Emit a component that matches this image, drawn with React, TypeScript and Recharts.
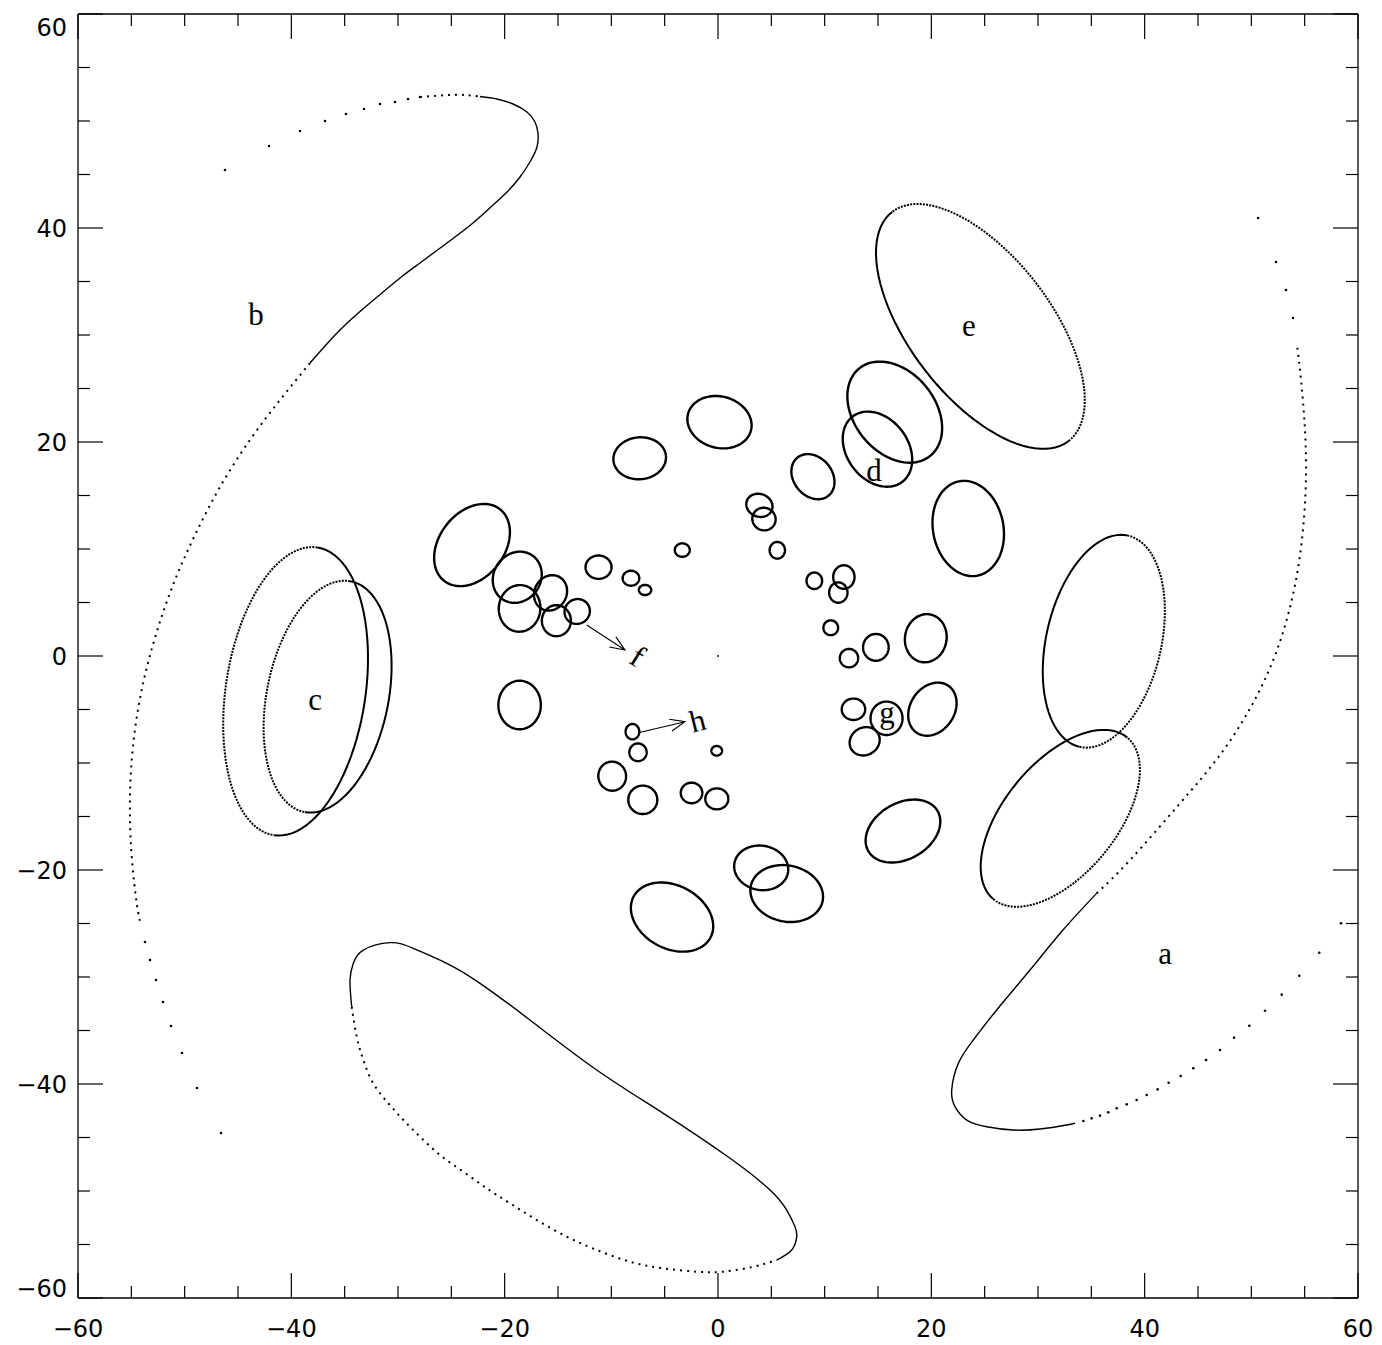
import React from "react";
import { ScatterChart, Scatter, XAxis, YAxis } from "recharts";

// ------------------------------------------------------------------
// Lens images + critical curves, -60..60 box, IDL-style frame
// ------------------------------------------------------------------

const W = 1382;
const H = 1345;
const SANS = "'DejaVu Sans', sans-serif";
const SERIF = "'Liberation Serif', 'Times New Roman', serif";

const tickValues = [-60, -55, -50, -45, -40, -35, -30, -25, -20, -15, -10, -5, 0, 5, 10, 15, 20, 25, 30, 35, 40, 45, 50, 55, 60];

// small images: [x, y, semi-major, semi-minor, angle of major axis in deg]
const images: number[][] = [
  [16.57, 22.79, 5.27, 3.78, 129.5],
  [14.95, 19.33, 3.84, 2.86, 127.4],
  [23.46, 11.92, 4.49, 3.3, 101.2],
  [-23.06, 10.37, 4.25, 3.05, 52],
  [-4.31, -24.4, 4.08, 2.95, -28],
  [17.34, -16.36, 3.75, 2.62, 30],
  [4.05, -19.8, 2.55, 2.07, -10],
  [6.44, -22.2, 3.44, 2.62, -12],
  [0.14, 21.85, 3.05, 2.4, -15],
  [-7.34, 18.48, 2.47, 1.96, 5],
  [8.9, 16.76, 2.3, 1.8, -50],
  [20.1, -4.97, 2.65, 2.07, 56],
  [19.48, 1.66, 2.26, 1.95, 80],
  [-18.6, -4.58, 2.27, 1.99, 90],
  [-18.82, 7.36, 2.48, 2.2, 55],
  [-18.6, 4.45, 2.18, 1.95, 85],
  [-15.7, 5.9, 1.7, 1.5, 60],
  [-15.15, 3.3, 1.45, 1.36, 90],
  [-13.2, 4.16, 1.2, 1.15, 30],
  [-11.2, 8.3, 1.22, 1.09, 0],
  [-8.16, 7.27, 0.78, 0.7, 0],
  [-6.84, 6.17, 0.58, 0.47, 0],
  [-3.35, 9.9, 0.7, 0.63, 0],
  [3.88, 14.08, 1.25, 1.06, -20],
  [4.31, 12.8, 1.1, 1.05, -20],
  [5.56, 9.88, 0.78, 0.72, 90],
  [9.03, 7.03, 0.77, 0.73, 90],
  [11.8, 7.38, 1.1, 1.0, 90],
  [11.28, 5.93, 0.95, 0.86, 90],
  [10.57, 2.64, 0.69, 0.69, 0],
  [12.28, -0.2, 0.86, 0.86, 0],
  [14.8, 0.81, 1.25, 1.2, 90],
  [12.7, -4.98, 1.1, 1.0, 0],
  [15.8, -5.82, 1.56, 1.5, 90],
  [13.75, -7.97, 1.45, 1.28, 30],
  [-8.02, -7.07, 0.72, 0.64, 90],
  [-7.5, -9.0, 0.83, 0.81, 90],
  [-0.12, -8.86, 0.5, 0.45, 0],
  [-9.92, -11.23, 1.36, 1.3, 100],
  [-7.05, -13.44, 1.36, 1.33, 0],
  [-2.48, -12.8, 1.01, 0.96, 0],
  [-0.11, -13.35, 1.08, 0.98, 0],
];

// big images, half drawn dotted: [x, y, a, b, angle, direction of dotted side]
const bigImages: number[][] = [
  [-39.6, -3.3, 13.6, 6.55, 81.4, 171],
  [-36.6, -3.8, 11.0, 5.7, 78.5, 170],
  [24.6, 30.8, 13.53, 6.61, 127.7, 37.7],
  [36.17, 1.38, 10.13, 5.39, 77, -13],
  [32.09, -15.17, 9.82, 5.26, 50.3, -40],
];

// critical curve "b"
const curveBDotTop = [[-27.94, 52.24], [-25.22, 52.43], [-23.72, 52.43], [-22.31, 52.29]];
const curveBDense = [[-22.31, 52.29], [-20.72, 52.06], [-19.22, 51.59], [-17.91, 50.84], [-17.16, 49.91], [-16.88, 48.88], [-16.97, 47.57], [-17.63, 46.17], [-18.56, 44.77], [-19.78, 43.36], [-21.09, 42.15], [-22.97, 40.47], [-25.41, 38.6], [-27.94, 36.73], [-29.81, 35.33], [-32.63, 32.99], [-35.44, 30.47], [-38.25, 27.38]];
const curveBDotted = [[-38.25, 27.38], [-41.06, 23.93], [-43.88, 20.19], [-46.69, 15.79], [-49.03, 11.31], [-50.91, 7.1], [-52.5, 2.62], [-53.72, -1.78], [-54.56, -6.17], [-55.03, -10.65], [-55.13, -14.86], [-54.94, -19.07], [-54.47, -23.27], [-54.09, -25.14]];
const curveBSparse = [[-46.22, 45.42], [-42.09, 47.66], [-39.19, 49.07], [-36.84, 50.0], [-34.88, 50.66], [-33.19, 51.12], [-31.69, 51.59], [-30.28, 51.78], [-29.06, 52.06], [-27.94, 52.24], [-53.72, -26.73], [-53.25, -28.41], [-52.69, -30.28], [-52.03, -32.34], [-51.28, -34.58], [-50.25, -37.1], [-48.84, -40.37], [-46.59, -44.58]];

// critical curve "a"
const curveADense = [[33.47, -43.67], [32.69, -43.83], [30.19, -44.21], [27.68, -44.3], [25.19, -43.99], [23.32, -43.37], [22.22, -42.12], [21.91, -40.56], [22.53, -38.07], [23.93, -35.89], [26.13, -33.08], [29.25, -29.35], [32.34, -25.61], [35.5, -22.18]];
const curveADotted = [[35.5, -22.18], [38.63, -19.07], [43.31, -13.77], [47.06, -9.25], [50.06, -4.58], [52.41, 0.56], [54.0, 6.17], [54.84, 11.78], [55.13, 17.38], [54.94, 22.52], [54.56, 26.73], [54.28, 29.07]];
const curveASparse = [[58.41, -24.98], [56.37, -27.73], [54.5, -29.88], [52.85, -31.65], [51.28, -33.15], [49.81, -34.55], [48.38, -35.67], [47.06, -36.82], [45.75, -37.76], [44.56, -38.53], [43.38, -39.25], [42.25, -39.88], [41.22, -40.5], [40.19, -41.03], [39.25, -41.5], [38.32, -41.9], [37.38, -42.27], [36.59, -42.65], [35.81, -42.96], [35.03, -43.21], [34.25, -43.46], [53.91, 31.59], [53.25, 34.21], [52.31, 36.82], [50.63, 40.93]];

// lower caustic loop
const curveCDense = [[-34.34, -32.78], [-34.5, -30.28], [-34.19, -28.72], [-33.25, -27.48], [-30.75, -26.79], [-28.57, -27.32], [-25.43, -28.72], [-22.31, -30.59], [-17.63, -34.02], [-11.37, -38.69], [-5.13, -42.74], [1.13, -46.94], [4.88, -49.91], [6.44, -51.78], [7.22, -53.34], [7.38, -54.27], [6.91, -55.51], [5.5, -56.45]];
const curveCDotted = [[-34.34, -32.78], [-33.87, -35.58], [-33.25, -37.76], [-32.32, -39.94], [-30.91, -41.8], [-29.5, -43.36], [-27.94, -44.92], [-26.06, -46.64], [-23.88, -48.2], [-21.68, -49.75], [-19.5, -51.15], [-17.0, -52.71], [-14.18, -54.27], [-11.37, -55.51], [-8.25, -56.61], [-5.13, -57.23], [-2.0, -57.54], [0.5, -57.54], [3.31, -57.08], [5.5, -56.45]];

// letters
const letters = ["a", "b", "c", "d", "e", "f", "g", "h"];
const letterX = [41.91, -43.31, -37.78, 14.63, 23.53, -8.06, 15.84, -1.69];
const letterY = [-28.79, 30.94, -5.05, 16.36, 29.91, -0.84, -6.26, -7.0];
const letterRot = [0, 0, 0, 0, 0, 32, 0, -14];

// arrows (start, tip)
const arrowF = [[-12.31, 2.9], [-8.72, 0.56]];
const arrowH = [[-7.47, -7.17], [-3.09, -6.14]];

const origin = [{ x: 0, y: 0 }];

// ------------------------------------------------------------------

const toPts = (arr: number[][]) => arr.map(([x, y]) => ({ x, y }));

function ellipsePts(cx: number, cy: number, a: number, b: number, ang: number, from = 0, to = 360) {
  const t = (ang * Math.PI) / 180;
  const steps = Math.max(12, Math.round((96 * (to - from)) / 360));
  const pts: { x: number; y: number }[] = [];
  for (let i = 0; i <= steps; i++) {
    const th = ((from + ((to - from) * i) / steps) * Math.PI) / 180;
    const ex = a * Math.cos(th);
    const ey = b * Math.sin(th);
    pts.push({ x: cx + ex * Math.cos(t) - ey * Math.sin(t), y: cy + ex * Math.sin(t) + ey * Math.cos(t) });
  }
  return pts;
}

function arrowPts(arr: number[][]) {
  const [[x1, y1], [x2, y2]] = arr;
  const ang = Math.atan2(y2 - y1, x2 - x1);
  const len = 1.5;
  const spread = (22 * Math.PI) / 180;
  const b1 = { x: x2 - len * Math.cos(ang - spread), y: y2 - len * Math.sin(ang - spread) };
  const b2 = { x: x2 - len * Math.cos(ang + spread), y: y2 - len * Math.sin(ang + spread) };
  return [{ x: x1, y: y1 }, { x: x2, y: y2 }, b1, { x: x2, y: y2 }, b2];
}

const Empty = () => <g />;
const Dot = (p: any) => <circle cx={p.cx} cy={p.cy} r={1.3} fill="#000" />;
const Origin = (p: any) => <circle cx={p.cx} cy={p.cy} r={0.9} fill="#000" />;
const Letter = (p: any) => (
  <text
    x={p.cx}
    y={p.cy}
    textAnchor="middle"
    fontFamily={SERIF}
    fontSize={31}
    fill="#000"
    transform={p.payload.r ? `rotate(${p.payload.r} ${p.cx} ${p.cy})` : undefined}
  >
    {p.payload.t}
  </text>
);

const isMajor = (v: number) => v % 20 === 0;
const fmt = (v: number) => (v < 0 ? `\u2212${-v}` : `${v}`);

function BottomTick({ x, y, payload }: any) {
  const v = payload.value;
  const m = isMajor(v);
  return (
    <g>
      <line x1={x} x2={x} y1={y} y2={y - (m ? 25 : 12)} stroke="#000" strokeWidth={1.2} />
      {m && (
        <text x={x} y={y + 39} textAnchor="middle" fontFamily={SANS} fontSize={24} fill="#000">
          {fmt(v)}
        </text>
      )}
    </g>
  );
}

function TopTick({ x, y, payload }: any) {
  const m = isMajor(payload.value);
  return <line x1={x} x2={x} y1={y} y2={y + (m ? 25 : 12)} stroke="#000" strokeWidth={1.2} />;
}

function LeftTick({ x, y, payload }: any) {
  const v = payload.value;
  const m = isMajor(v);
  const dy = v === 60 ? 22 : v === -60 ? -1 : 8.5;
  return (
    <g>
      <line x1={x} x2={x + (m ? 25 : 12)} y1={y} y2={y} stroke="#000" strokeWidth={1.2} />
      {m && (
        <text x={x - 11} y={y + dy} textAnchor="end" fontFamily={SANS} fontSize={24} fill="#000">
          {fmt(v)}
        </text>
      )}
    </g>
  );
}

function RightTick({ x, y, payload }: any) {
  const m = isMajor(payload.value);
  return <line x1={x} x2={x - (m ? 25 : 12)} y1={y} y2={y} stroke="#000" strokeWidth={1.2} />;
}

export default function App() {
  const letterData = letters.map((t, i) => ({ x: letterX[i], y: letterY[i], t, r: letterRot[i] }));

  const solidImages = images.map(([cx, cy, a, b, ang]) => ellipsePts(cx, cy, a, b, ang));

  const bigSolid: { x: number; y: number }[][] = [];
  const bigDotted: { x: number; y: number }[][] = [];
  bigImages.forEach(([cx, cy, a, b, ang, dir]) => {
    const phi = ((dir - ang) * Math.PI) / 180;
    const thd = (Math.atan2(a * Math.sin(phi), b * Math.cos(phi)) * 180) / Math.PI;
    bigDotted.push(ellipsePts(cx, cy, a, b, ang, thd - 90, thd + 90));
    bigSolid.push(ellipsePts(cx, cy, a, b, ang, thd + 90, thd + 270));
  });

  const axisLine = { stroke: "#000", strokeWidth: 1.3 };
  const dense = { stroke: "#000", strokeWidth: 1.4 };
  const dotted = { stroke: "#000", strokeWidth: 2, strokeDasharray: "2 5" };

  return (
    <div style={{ position: "absolute", left: 0, top: 0, width: W, height: H, background: "#fff" }}>
      <ScatterChart width={W} height={H} margin={{ top: 13, right: 23, bottom: 0, left: 0 }}>
        <XAxis
          type="number"
          dataKey="x"
          domain={[-60, 60]}
          ticks={tickValues}
          interval={0}
          allowDataOverflow
          height={47}
          tickSize={0}
          tickMargin={0}
          tickLine={false}
          axisLine={axisLine}
          tick={<BottomTick />}
        />
        <XAxis
          xAxisId="t"
          orientation="top"
          type="number"
          dataKey="x"
          domain={[-60, 60]}
          ticks={tickValues}
          interval={0}
          allowDataOverflow
          height={1}
          tickSize={0}
          tickMargin={0}
          tickLine={false}
          axisLine={axisLine}
          tick={<TopTick />}
        />
        <YAxis
          type="number"
          dataKey="y"
          domain={[-60, 60]}
          ticks={tickValues}
          interval={0}
          allowDataOverflow
          width={78}
          tickSize={0}
          tickMargin={0}
          tickLine={false}
          axisLine={axisLine}
          tick={<LeftTick />}
        />
        <YAxis
          yAxisId="r"
          orientation="right"
          type="number"
          dataKey="y"
          domain={[-60, 60]}
          ticks={tickValues}
          interval={0}
          allowDataOverflow
          width={1}
          tickSize={0}
          tickMargin={0}
          tickLine={false}
          axisLine={axisLine}
          tick={<RightTick />}
        />

        {/* critical curves */}
        <Scatter data={toPts(curveBDotTop)} fill="#000" line={dotted} lineJointType="natural" shape={Empty} isAnimationActive={false} />
        <Scatter data={toPts(curveBDense)} fill="#000" line={dense} lineJointType="natural" shape={Empty} isAnimationActive={false} />
        <Scatter data={toPts(curveBDotted)} fill="#000" line={dotted} lineJointType="natural" shape={Empty} isAnimationActive={false} />
        <Scatter data={toPts(curveBSparse)} fill="#000" shape={Dot} isAnimationActive={false} />
        <Scatter data={toPts(curveADense)} fill="#000" line={dense} lineJointType="natural" shape={Empty} isAnimationActive={false} />
        <Scatter data={toPts(curveADotted)} fill="#000" line={dotted} lineJointType="natural" shape={Empty} isAnimationActive={false} />
        <Scatter data={toPts(curveASparse)} fill="#000" shape={Dot} isAnimationActive={false} />
        <Scatter data={toPts(curveCDense)} fill="#000" line={dense} lineJointType="natural" shape={Empty} isAnimationActive={false} />
        <Scatter data={toPts(curveCDotted)} fill="#000" line={dotted} lineJointType="natural" shape={Empty} isAnimationActive={false} />

        {/* large images */}
        {bigSolid.map((pts, i) => (
          <Scatter key={`bs${i}`} data={pts} fill="#000" line={{ stroke: "#000", strokeWidth: 2 }} shape={Empty} isAnimationActive={false} />
        ))}
        {bigDotted.map((pts, i) => (
          <Scatter key={`bd${i}`} data={pts} fill="#000" line={{ stroke: "#000", strokeWidth: 2, strokeDasharray: "2 1.2" }} shape={Empty} isAnimationActive={false} />
        ))}

        {/* small images */}
        {solidImages.map((pts, i) => (
          <Scatter key={`im${i}`} data={pts} fill="#000" line={{ stroke: "#000", strokeWidth: 2.4 }} shape={Empty} isAnimationActive={false} />
        ))}

        {/* arrows + letters */}
        <Scatter data={arrowPts(arrowF)} fill="#000" line={{ stroke: "#000", strokeWidth: 1.1 }} shape={Empty} isAnimationActive={false} />
        <Scatter data={arrowPts(arrowH)} fill="#000" line={{ stroke: "#000", strokeWidth: 1.1 }} shape={Empty} isAnimationActive={false} />
        <Scatter data={letterData} fill="#000" shape={Letter} isAnimationActive={false} />
        <Scatter data={origin} xAxisId="t" yAxisId="r" fill="#000" shape={Origin} isAnimationActive={false} />
      </ScatterChart>
    </div>
  );
}
